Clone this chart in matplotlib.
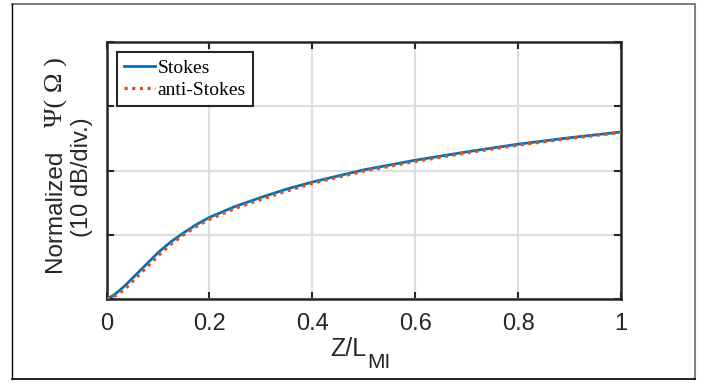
import matplotlib
matplotlib.use("Agg")
import matplotlib.pyplot as plt
from matplotlib.lines import Line2D

# values (y in 10 dB divisions)
z_pos = [0.0, 0.0125, 0.025, 0.0375, 0.05, 0.075, 0.1, 0.125, 0.15, 0.175, 0.2,
         0.25, 0.3, 0.35, 0.4, 0.5, 0.6, 0.7, 0.8, 0.9, 1.0]
stokes = [0.0, 0.05, 0.13, 0.22, 0.32, 0.52, 0.72, 0.89, 1.03, 1.16, 1.27,
          1.44, 1.58, 1.71, 1.82, 2.01, 2.16, 2.29, 2.41, 2.51, 2.60]
anti_stokes = [0.0, 0.03, 0.09, 0.17, 0.27, 0.47, 0.67, 0.85, 1.00, 1.13, 1.24,
               1.41, 1.55, 1.68, 1.80, 1.99, 2.14, 2.275, 2.395, 2.50, 2.59]
x_ticks = [0, 0.2, 0.4, 0.6, 0.8, 1]
x_labels = ["0", "0.2", "0.4", "0.6", "0.8", "1"]
y_ticks = [0, 1, 2, 3, 4]

BLUE = "#0072BD"
ORANGE = "#D95319"
AX_COL = "#262626"

plt.rcParams["font.family"] = ["Liberation Sans", "DejaVu Sans"]

W, H = 704, 383
fig = plt.figure(figsize=(W / 100, H / 100), dpi=100)


def fx(px):
    return px / W


def fy(py):
    return 1 - py / H


# outer frame of the figure panel
fig.add_artist(Line2D([fx(12), fx(695)], [fy(4), fy(4)], color="#666666", lw=1.2))
fig.add_artist(Line2D([fx(695), fx(695)], [fy(4), fy(379)], color="#808080", lw=1.5))
fig.add_artist(Line2D([fx(12), fx(12)], [fy(4), fy(379)], color="black", lw=1.0))
fig.add_artist(Line2D([fx(12), fx(695)], [fy(379), fy(379)], color="black", lw=1.2))

ax = fig.add_axes([fx(106.5), fy(299), fx(621) - fx(106.5), fy(42) - fy(299)])
ax.plot(z_pos, stokes, color=BLUE, lw=2.0, label="Stokes", zorder=3)
ax.plot(z_pos, anti_stokes, color=ORANGE, lw=2.3, ls=(0, (1, 1.4)),
        label="anti-Stokes", zorder=4)

ax.set_xlim(0, 1)
ax.set_ylim(0, 4)
ax.set_xticks(x_ticks)
ax.set_xticklabels(x_labels)
ax.set_yticks(y_ticks)
ax.set_yticklabels([])
ax.grid(True, color="#dedede", lw=1.5)
ax.set_axisbelow(True)
ax.tick_params(direction="in", length=5, width=1.5, color=AX_COL,
               top=True, right=True, labelsize=17, pad=10, labelcolor=AX_COL)
for sp in ax.spines.values():
    sp.set_color(AX_COL)
    sp.set_linewidth(1.8)

leg = ax.legend(loc="upper left", bbox_to_anchor=(0.02, 0.96),
                prop={"family": "Liberation Serif", "size": 14},
                handlelength=1.6, handletextpad=0.15, borderpad=0.35,
                labelspacing=0.25, fancybox=False, framealpha=1,
                borderaxespad=0)
leg.get_frame().set_edgecolor(AX_COL)
leg.get_frame().set_linewidth(1.5)

# x label: Z/L with subscript MI
fig.text(fx(366), fy(349), "Z/L", ha="right", va="center",
         fontsize=18, color=AX_COL)
fig.text(fx(367), fy(363), "MI", ha="left", va="center",
         fontsize=15, color=AX_COL)

# y label, two lines, mixed fonts
fig.text(fx(55), fy(150), "Normalized", rotation=90, ha="center", va="top",
         fontsize=17.5, color=AX_COL)
fig.text(fx(56), fy(127), "Ψ( Ω )", rotation=90, ha="center", va="bottom",
         fontsize=19, color=AX_COL, family="Liberation Serif")
fig.text(fx(82), fy(177), "(10 dB/div.)", rotation=90, ha="center", va="center",
         fontsize=17, color=AX_COL)

fig.savefig("out.png", dpi=100)
